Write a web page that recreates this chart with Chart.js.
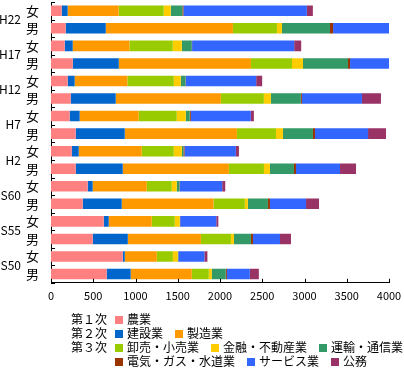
<!DOCTYPE html>
<html>
<head>
<meta charset="utf-8">
<script src="https://cdn.jsdelivr.net/npm/chart.js@4/dist/chart.umd.min.js"></script>
<style>
  body { margin: 0; background: #fff; }
  #wrap { position: relative; width: 404px; height: 370px; }
  #legend { position: absolute; left: 71px; top: 312px; font: 12px "Noto Sans CJK JP", sans-serif; color: #000; }
  .row { height: 14px; line-height: 14px; white-space: nowrap; }
  .grp { display: inline-block; width: 44px; }
  .item { display: inline-block; margin-right: 12px; }
  .box { display: inline-block; width: 8px; height: 8px; margin-right: 4px; }
</style>
</head>
<body>
<div id="wrap">
  <canvas id="chart" width="404" height="370"></canvas>
  <div id="legend"></div>
</div>
<script>
// ===== data (top row first: H22 女, H22 男, H17 女 ... S50 男) =====
const years = ["H22", "H17", "H12", "H7", "H2", "S60", "S55", "S50"];
const sexes = ["女", "男"];
const industries = ["農業", "建設業", "製造業", "卸売・小売業", "金融・不動産業", "運輸・通信業", "電気・ガス・水道業", "サービス業", "公務"];
const colors = ["#ff8080", "#0066cc", "#ff9900", "#99cc00", "#ffcc00", "#339966", "#993300", "#3366ff", "#993366"];
const groups = [["第１次", [0]], ["第２次", [1, 2]], ["第３次", [3, 4, 5]], ["", [6, 7, 8]]];

const agri      = [126, 174, 162, 257, 197, 233, 221, 292, 245, 292, 434, 375, 624, 494, 849, 659];
const construct = [71, 474, 95, 545, 83, 533, 118, 581, 83, 557, 59, 462, 59, 415, 24, 284];
const manuf     = [604, 1505, 671, 1564, 624, 1244, 699, 1327, 746, 1256, 640, 1086, 509, 865, 379, 723];
const retail    = [533, 521, 513, 486, 549, 509, 450, 462, 379, 415, 296, 371, 272, 355, 190, 201];
const finance   = [83, 59, 107, 130, 83, 83, 107, 83, 95, 71, 59, 36, 59, 36, 59, 36];
const transport = [138, 569, 118, 533, 55, 355, 47, 355, 20, 284, 32, 237, 4, 201, 4, 166];
const utility   = [12, 36, 4, 24, 4, 12, 12, 24, 12, 24, 4, 24, 2, 24, 2, 12];
const service   = [1461, 900, 1208, 820, 833, 711, 711, 628, 608, 521, 502, 427, 427, 320, 308, 272];
const govt      = [71, 250, 83, 250, 71, 225, 36, 213, 36, 190, 36, 154, 24, 130, 36, 107];
const seriesValues = [agri, construct, manuf, retail, finance, transport, utility, service, govt];

const xTicks = [0, 500, 1000, 1500, 2000, 2500, 3000, 3500, 4000];

// row labels 女/男 for every year
const rowLabels = [];
years.forEach(() => sexes.forEach(s => rowLabels.push(s)));

const jp = '"Noto Sans CJK JP", sans-serif';

// small inside tick marks on both axes
const insideTicks = {
  id: "insideTicks",
  afterDraw(chart) {
    const { ctx, chartArea } = chart;
    const x = chart.scales.x, y = chart.scales.y;
    ctx.save();
    ctx.strokeStyle = "#000";
    ctx.lineWidth = 1;
    ctx.beginPath();
    xTicks.forEach(v => {
      const px = Math.round(x.getPixelForValue(v)) + 0.5;
      ctx.moveTo(px, chartArea.bottom);
      ctx.lineTo(px, chartArea.bottom - 4);
    });
    for (let i = 0; i <= rowLabels.length; i++) {
      const py = Math.round(y.getPixelForValue(i - 0.5)) + 0.5;
      ctx.moveTo(chartArea.left, py);
      ctx.lineTo(chartArea.left + 4, py);
    }
    ctx.stroke();
    ctx.restore();
  },
};

// y axes: no extra label padding at top/bottom
const noVPad = (scale) => { scale.paddingTop = 0; scale.paddingBottom = 0; };

const config = {
  type: "bar",
  data: {
    labels: rowLabels,
    datasets: industries.map((name, i) => ({
      label: name,
      data: seriesValues[i],
      backgroundColor: colors[i],
      borderWidth: 0,
      barPercentage: 0.6,
      categoryPercentage: 1,
      clip: 0,
    })),
  },
  options: {
    indexAxis: "y",
    responsive: false,
    animation: false,
    layout: { padding: { top: 2, right: 0, bottom: 62, left: 0 } },
    plugins: {
      legend: { display: false },
      tooltip: { enabled: false },
    },
    scales: {
      x: {
        stacked: true,
        min: 0,
        max: 4000,
        afterBuildTicks: (scale) => { scale.ticks = xTicks.map(v => ({ value: v })); },
        afterFit: (scale) => { scale.paddingRight = 15; scale.paddingLeft = 0; },
        grid: { display: false, drawTicks: false },
        border: { color: "#000", width: 1 },
        ticks: { color: "#000", font: { family: jp, size: 11 }, padding: 6, maxRotation: 0, callback: (v) => String(v) },
      },
      y: {
        stacked: true,
        weight: 0,
        grid: { display: false, drawTicks: false },
        border: { color: "#000", width: 1 },
        ticks: { color: "#000", font: { family: jp, size: 13 }, padding: 12, autoSkip: false },
        afterFit: (scale) => { scale.width = 27; noVPad(scale); },
      },
      yYear: {
        type: "category",
        position: "left",
        weight: 1,
        labels: years,
        offset: true,
        grid: { display: false, drawTicks: false },
        border: { display: false },
        ticks: { color: "#000", font: { family: jp, size: 12 }, padding: 3, autoSkip: false },
        afterFit: (scale) => { scale.width = 24; noVPad(scale); },
      },
    },
  },
  plugins: [insideTicks],
};

let chart = new Chart(document.getElementById("chart"), config);

// legend built from the same arrays
const legend = document.getElementById("legend");
groups.forEach(g => {
  const row = document.createElement("div");
  row.className = "row";
  const grp = document.createElement("span");
  grp.className = "grp";
  grp.textContent = g[0];
  row.append(grp);
  g[1].forEach(i => {
    const item = document.createElement("span");
    item.className = "item";
    const box = document.createElement("span");
    box.className = "box";
    box.style.background = colors[i];
    item.append(box);
    item.append(document.createTextNode(industries[i]));
    row.append(item);
  });
  legend.append(row);
});
</script>
</body>
</html>
